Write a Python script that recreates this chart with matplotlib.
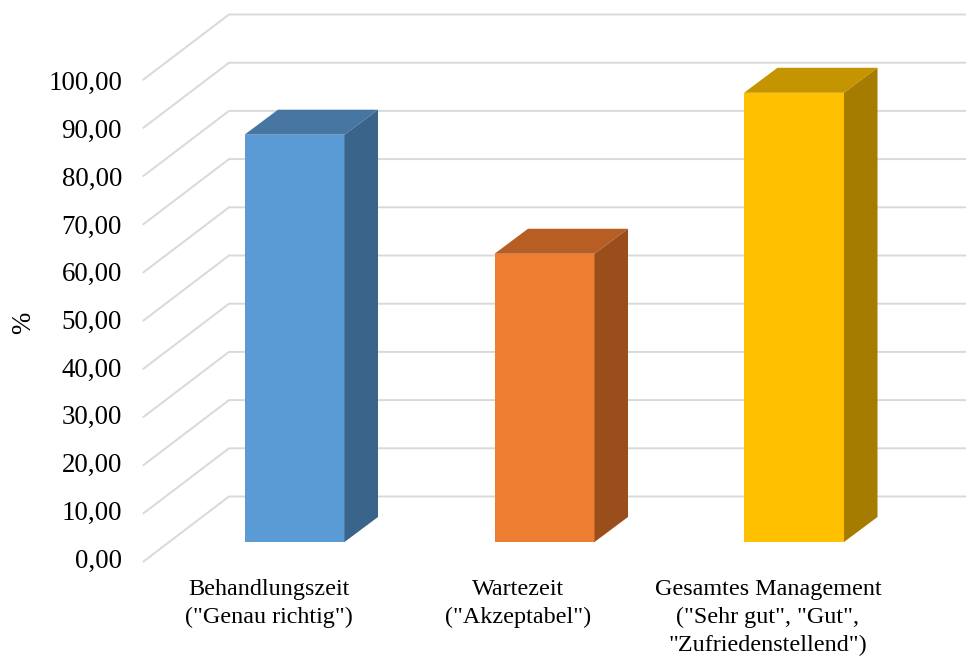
import matplotlib
matplotlib.use("Agg")
import matplotlib.pyplot as plt
from matplotlib.patches import Polygon

categories = [
    'Behandlungszeit\n("Genau richtig")',
    'Wartezeit\n("Akzeptabel")',
    'Gesamtes Management\n("Sehr gut", "Gut",\n"Zufriedenstellend")',
]
values = [84.5, 59.8, 93.2]
ticks = [0, 10, 20, 30, 40, 50, 60, 70, 80, 90, 100]
front_colors = ["#5B9BD5", "#ED7D31", "#FFC000"]
top_colors = ["#4776A3", "#B65E23", "#C49500"]
side_colors = ["#3A6489", "#9A4E1C", "#A67C00"]

PX_PER_UNIT = 4.82
FLOOR_Y = 561.5
GRID = "#D9D9D9"


def main() -> None:
    plt.rcParams["font.family"] = "Liberation Serif"
    fig = plt.figure(figsize=(9.66, 6.56), dpi=100)
    ax = fig.add_axes([0, 0, 1, 1])
    # x is in pixels, y is the value on the front edge of the floor
    ax.set_xlim(0, 966)
    ax.set_ylim((FLOOR_Y - 656) / PX_PER_UNIT, FLOOR_Y / PX_PER_UNIT)
    ax.axis("off")

    wall_dx, wall_dy = 85.5, 65 / PX_PER_UNIT
    for t in ticks:
        ax.plot([143.5, 143.5 + wall_dx, 966], [t, t + wall_dy, t + wall_dy],
                color=GRID, linewidth=1.4, solid_joinstyle="miter", zorder=1)

    # labels sit on a slightly tighter spacing than the gridlines
    for t in ticks:
        ax.text(122, 0.1 + t * 0.99, f"{t:.2f}".replace(".", ","), ha="right",
                va="center", fontsize=19.4, color="black")
    ax.text(24, 49.5, "%", rotation=90, ha="center", va="center", fontsize=19.4)

    base = (FLOOR_Y - 542) / PX_PER_UNIT
    lefts = [244.5, 494.5, 744]
    width = 100
    dx, dy = 33.5, 25 / PX_PER_UNIT
    centers = [269, 518, 768]
    for i, v in enumerate(values):
        x0, x1 = lefts[i], lefts[i] + width
        top = v + base
        ax.add_patch(Polygon([(x0, base), (x1, base), (x1, top), (x0, top)],
                             fc=front_colors[i], ec="none", zorder=3))
        ax.add_patch(Polygon([(x0, top), (x1, top), (x1 + dx, top + dy), (x0 + dx, top + dy)],
                             fc=top_colors[i], ec="none", zorder=3))
        ax.add_patch(Polygon([(x1, base), (x1 + dx, base + dy), (x1 + dx, top + dy), (x1, top)],
                             fc=side_colors[i], ec="none", zorder=3))
        ax.text(centers[i], -3.6, categories[i], ha="center", va="top",
                fontsize=17.4, linespacing=1.44, color="black")

    fig.savefig("out.png", dpi=100)


if __name__ == "__main__":
    main()
